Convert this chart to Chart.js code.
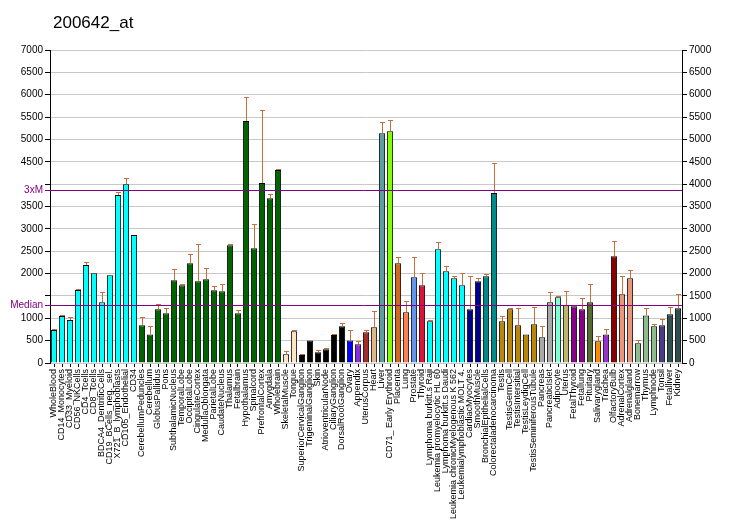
<!DOCTYPE html>
<html>
<head>
<meta charset="utf-8">
<script src="https://cdn.jsdelivr.net/npm/chart.js@4/dist/chart.umd.min.js"></script>
<style>
html,body{margin:0;padding:0;background:#fff;}
#wrap{width:732px;height:530px;position:relative;}
</style>
</head>
<body>
<div id="wrap"><canvas id="c" width="732" height="530"></canvas></div>
<script>
const chartTitle = "200642_at";
const categories = [
"WholeBlood","CD14_Monocytes","CD33_Myeloid","CD56_NKCells","CD4_Tcells","CD8_Tcells",
"BDCA4_DentriticCells","CD19_BCells_neg._sel.","X721_B_lymphoblasts","CD105_Endothelial","CD34",
"CerebellumPeduncles","Cerebellum","GlobusPallidus","Pons","SubthalamicNucleus","TemporalLobe",
"OccipitalLobe","CingulateCortex","MedullaOblongata","ParietalLobe","CaudateNucleus","Thalamus",
"Fetalbrain","Hypothalamus","Spinalcord","PrefrontalCortex","Amygdala","Wholebrain",
"SkeletalMuscle","Tongue","SuperiorCervicalGanglion","TrigeminalGanglion","Skin",
"AtrioventricularNode","CiliaryGanglion","DorsalRootGanglion","Ovary","Appendix","UterusCorpus",
"Heart","Liver","CD71_ Early Erythroid","Placenta","Lung","Prostate","Thyroid",
"Lymphoma burkitt.s Raji","Leukemia promyelocytic HL 60","Lymphoma burkitt.s Daudi",
"Leukemia chronicMyelogenous K 562","Leukemialymphoblastic MOLT 4.","CardiacMyocytes","SmoothMuscle",
"BronchialEpithelialCells","Colorectaladenocarcinoma","Testis","TestisGermCell","TestisIntersitial",
"TestisLeydigCell","TestisSeminiferousTubule","Pancreas","PancreaticIslet","Adipocyte","Uterus",
"FetalThyroid","Fetallung","Pituitary","Salivarygland","Trachea","OlfactoryBulb","AdrenalCortex",
"Adrenalgland","Bonemarrow","Thymus","Lymphnode","Tonsil","Fetalliver","Kidney"];
const values = [
740,1050,960,1635,2190,2005,1360,1965,3755,4000,2860,
845,640,1200,1110,1850,1740,2230,1830,1875,1625,1605,2635,
1110,5410,2565,4025,3685,4315,
195,710,180,505,240,305,625,820,505,420,685,
800,5140,5185,2230,1135,1920,1740,
935,2545,2050,1895,1740,1200,1830,
1940,3800,935,1200,845,640,865,575,1360,1470,1290,
1270,1200,1360,485,640,2390,1535,1895,440,1065,820,845,1090,1225];
const errors = [
11,15,60,15,75,0,225,0,65,135,0,
180,180,125,110,245,35,200,830,260,105,155,25,
65,540,540,1635,90,20,
65,20,15,0,45,20,15,65,225,65,45,
360,245,245,135,245,450,265,
20,155,110,45,265,740,65,
45,670,110,25,380,0,380,245,225,25,315,
0,245,400,110,110,335,405,180,65,155,45,135,155,315];
const barColors = [
"#00FFFF","#00FFFF","#00FFFF","#00FFFF","#00FFFF","#00FFFF","#00FFFF","#00FFFF","#00FFFF","#00FFFF","#00FFFF",
"#006400","#006400","#006400","#006400","#006400","#006400","#006400","#006400","#006400","#006400","#006400","#006400",
"#006400","#006400","#006400","#006400","#006400","#006400",
"#FFE4C4","#FFE4C4","#000000","#000000","#000000","#000000","#000000","#000000","#0000FF","#8A2BE2","#A52A2A",
"#DEB887","#5F9EA0","#7FFF00","#D2691E","#FF7F50","#6495ED","#DC143C",
"#00FFFF","#00FFFF","#00FFFF","#00FFFF","#00FFFF","#00008B","#00008B",
"#008B8B","#008B8B","#B8860B","#B8860B","#B8860B","#B8860B","#B8860B","#A9A9A9","#A9A9A9","#7FFFD4","#BDB76B",
"#8B008B","#8B008B","#556B2F","#FF8C00","#9932CC","#8B0000","#E9967A","#E9967A","#8FBC8F","#8FBC8F","#8FBC8F",
"#483D8B","#2F4F4F","#2F4F4F"];
const medianValue = 1290;
const threeXMValue = 3870;
const yMin = 0, yMax = 7000, yStep = 500;
const hiddenLeftTicks = [4000, 1500];

const FONT = "Arial, 'Liberation Sans', sans-serif";
const errColor = "#C8703C";
const refColor = "#800080";

const overlayPlugin = {
  id: 'overlay',
  afterDatasetsDraw(chart) {
    const ctx = chart.ctx;
    const y = chart.scales.y;
    const area = chart.chartArea;
    const meta = chart.getDatasetMeta(0);
    ctx.save();
    // error bars
    ctx.strokeStyle = errColor;
    ctx.lineWidth = 1;
    meta.data.forEach((bar, i) => {
      const e = errors[i];
      if (!e) return;
      const x = Math.round(bar.x) + 0.5;
      const yTop = Math.round(y.getPixelForValue(values[i] + e)) + 0.5;
      const yBar = y.getPixelForValue(values[i]);
      ctx.beginPath();
      ctx.moveTo(x, yBar);
      ctx.lineTo(x, yTop);
      ctx.moveTo(x - 2.5, yTop);
      ctx.lineTo(x + 2.5, yTop);
      ctx.stroke();
    });
    // reference lines
    ctx.strokeStyle = refColor;
    ctx.fillStyle = refColor;
    ctx.font = "10px " + FONT;
    ctx.textAlign = 'right';
    ctx.textBaseline = 'middle';
    [[threeXMValue, '3xM'], [medianValue, 'Median']].forEach(([v, t]) => {
      const py = Math.round(y.getPixelForValue(v)) + 0.5;
      ctx.beginPath();
      ctx.moveTo(area.left - 5, py);
      ctx.lineTo(area.right, py);
      ctx.stroke();
      ctx.fillText(t, area.left - 7, py);
    });
    // title
    ctx.fillStyle = '#000';
    ctx.font = "17px " + FONT;
    ctx.textAlign = 'left';
    ctx.textBaseline = 'alphabetic';
    ctx.fillText(chartTitle, 53, 28);
    ctx.restore();
  }
};

new Chart(document.getElementById('c'), {
  type: 'bar',
  data: {
    labels: categories,
    datasets: [{
      data: values,
      backgroundColor: barColors,
      borderColor: '#000',
      borderWidth: 1,
      barPercentage: 0.78,
      categoryPercentage: 1.0
    }]
  },
  options: {
    responsive: false,
    devicePixelRatio: 1,
    animation: false,
    layout: { padding: { top: 50, left: 0, right: 0, bottom: 0 } },
    plugins: { legend: { display: false }, tooltip: { enabled: false }, title: { display: false } },
    scales: {
      x: {
        grid: { display: true, drawOnChartArea: false, offset: false, tickLength: 4, tickColor: '#000' },
        border: { display: false },
        ticks: {
          autoSkip: false, minRotation: 90, maxRotation: 90, padding: 2,
          color: '#000', font: { family: FONT, size: 9 }
        },
        afterFit(s) { s.height = 167; }
      },
      y: {
        position: 'left',
        min: yMin, max: yMax,
        grid: { color: '#C8C8C8', lineWidth: 1, tickLength: 5, tickColor: '#000' },
        border: { display: true, color: '#000', width: 1 },
        ticks: {
          stepSize: yStep, color: '#000', padding: 2,
          font: { family: FONT, size: 10 },
          callback: (v) => hiddenLeftTicks.includes(v) ? '' : String(v)
        },
        afterFit(s) { s.width = 50; }
      },
      y2: {
        position: 'right',
        min: yMin, max: yMax,
        grid: { drawOnChartArea: false, tickLength: 5, tickColor: '#000' },
        border: { display: true, color: '#000', width: 1 },
        ticks: {
          stepSize: yStep, color: '#000', padding: 2,
          font: { family: FONT, size: 10 },
          callback: (v) => String(v)
        },
        afterFit(s) { s.width = 50; }
      }
    }
  },
  plugins: [overlayPlugin]
});
</script>
</body>
</html>
